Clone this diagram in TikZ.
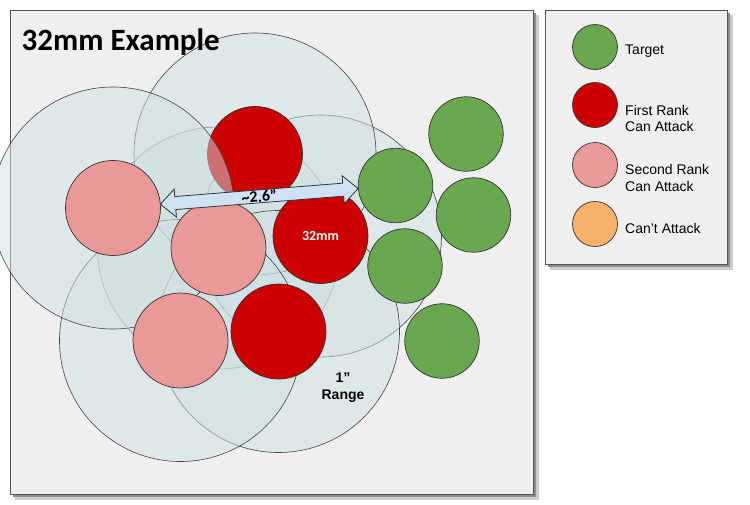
\documentclass[tikz,border=0pt]{standalone}
\usepackage{fontspec}
\setmainfont{Liberation Sans}
\newfontfamily\calib{Carlito}
\usetikzlibrary{calc}
\definecolor{panelbg}{HTML}{EFEFEF}
\definecolor{panelline}{HTML}{555555}
\definecolor{pieceline}{HTML}{333333}
\definecolor{rangeline}{HTML}{434343}
\definecolor{rangefill}{HTML}{D0E0E3}
\definecolor{pred}{HTML}{CC0000}
\definecolor{ppink}{HTML}{EA9999}
\definecolor{tgreen}{HTML}{6AA84F}
\definecolor{porange}{HTML}{F6B26B}
\definecolor{arrowfill}{HTML}{CFE2F3}
\begin{document}
\begin{tikzpicture}[x=1pt,y=-1pt,
  panel/.style={fill=panelbg, draw=panelline, line width=0.9pt},
  piece/.style={circle, draw=pieceline, line width=0.7pt, minimum size=95pt, inner sep=0pt},
  target/.style={circle, draw=pieceline, line width=0.7pt, minimum size=74.5pt, inner sep=0pt, fill=tgreen},
  rangec/.style={circle, draw=rangeline, line width=0.6pt, fill=rangefill, fill opacity=0.5, minimum size=242pt, inner sep=0pt},
  legdot/.style={circle, draw=pieceline, line width=0.7pt, minimum size=45pt, inner sep=0pt},
  legtext/.style={anchor=west, align=left, font=\fontsize{14}{16.7}\selectfont, inner sep=0pt},
  blockarrow/.style={fill=arrowfill, draw=pieceline, line width=0.8pt, line join=miter},
]
\useasboundingbox (0,0) rectangle (750,504);
\fill[white] (0,0) rectangle (750,504);
% shadows
\fill[black!20] (15,15) rectangle (538.5,499.5);
\fill[black!45] (13,13) rectangle (536,497);
\fill[black!20] (550,15) rectangle (732.5,269.5);
\fill[black!45] (548,13) rectangle (730,267);
% panels
\draw[panel] (10,10) rectangle (533,494);
\draw[panel] (545,10) rectangle (727,264);
% centres
\coordinate (c-pl) at (113,208);
\coordinate (c-rt) at (255,154);
\coordinate (c-r32) at (320.5,236);
\coordinate (c-pm) at (218.5,248);
\coordinate (c-pb) at (180.5,340.5);
\coordinate (c-rb) at (278.5,331.5);
% range circles
\node[rangec] (rg-pm) at (c-pm) {};
\node[rangec] (rg-r32) at (c-r32) {};
\node[rangec] (rg-rt) at (c-rt) {};
\node[rangec] (rg-rb) at (c-rb) {};
\node[rangec] (rg-pb) at (c-pb) {};
\node[piece, fill=pred] (rt) at (c-rt) {};
\node[rangec] (rg-pl) at (c-pl) {};
% pieces
\node[piece, fill=ppink] (pl) at (c-pl) {};
\node[piece, fill=ppink] (pm) at (c-pm) {};
\node[piece, fill=ppink] (pb) at (c-pb) {};
\node[piece, fill=pred] (rb) at (c-rb) {};
\node[piece, fill=pred, text=white, font=\calib\bfseries\fontsize{14}{14}\selectfont] (r32) at (c-r32) {32mm};
% targets
\node[target] (g1) at (395.5,185.5) {};
\node[target] (g2) at (466,134) {};
\node[target] (g3) at (473.5,215) {};
\node[target] (g4) at (405,266) {};
\node[target] (g5) at (442,341) {};
% arrow
\coordinate (aA) at ($(pl.center)!47.5pt!(g1.center)$);
\coordinate (aB) at ($(g1.center)!37.5pt!(pl.center)$);
\coordinate (a1) at ($(aA)!15pt!(aB)$);
\coordinate (b1) at ($(aB)!15pt!(aA)$);
\draw[blockarrow] (aA) -- ($(a1)!14pt!-90:(aB)$) -- ($(a1)!6.5pt!-90:(aB)$)
  -- ($(b1)!6.5pt!90:(aA)$) -- ($(b1)!14pt!90:(aA)$) -- (aB)
  -- ($(b1)!14pt!-90:(aA)$) -- ($(b1)!6.5pt!-90:(aA)$)
  -- ($(a1)!6.5pt!90:(aB)$) -- ($(a1)!14pt!90:(aB)$) -- cycle;
\path (aA) -- (aB) node[midway, sloped, inner sep=0pt, font=\calib\bfseries\fontsize{16}{16}\selectfont] (dist) {\textasciitilde2.6”};
% labels
\node[anchor=base west, inner sep=0pt, font=\calib\bfseries\fontsize{31}{31}\selectfont] (title) at (21.5,50) {32mm Example};
\node[align=center, inner sep=0pt, font=\bfseries\fontsize{14}{17}\selectfont] (rng) at (343,388) {1”\\Range};
% legend
\node[legdot, fill=tgreen] (l1) at (595,47) {};
\node[legdot, fill=pred] (l2) at (595,105) {};
\node[legdot, fill=ppink] (l3) at (595,165) {};
\node[legdot, fill=porange] (l4) at (595,224) {};
\node[legtext] (t1) at (625,51.5) {Target};
\node[legtext] (t2) at (625,118.5) {First Rank\\Can Attack};
\node[legtext] (t3) at (625,178) {Second Rank\\Can Attack};
\node[legtext] (t4) at (625,228) {Can’t Attack};
\end{tikzpicture}
\end{document}
